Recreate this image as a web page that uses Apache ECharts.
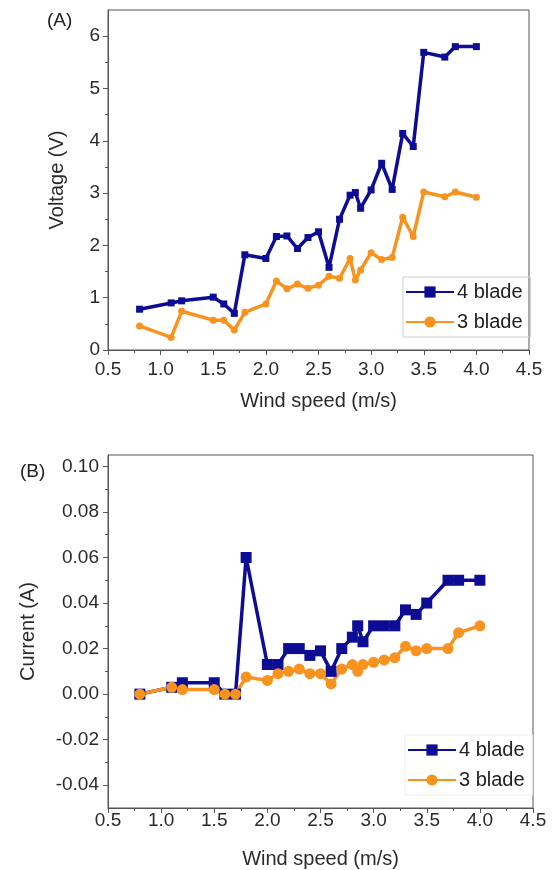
<!DOCTYPE html>
<html>
<head>
<meta charset="utf-8">
<script src="https://cdn.jsdelivr.net/npm/echarts@6/dist/echarts.min.js"></script>
<style>
  html, body { margin: 0; padding: 0; background: #fff; }
  #chart { width: 557px; height: 870px; }
</style>
</head>
<body>
<div id="chart"></div>
<script>
// wind speed (m/s)
let windSpeed = [0.8, 1.1, 1.2, 1.5, 1.6, 1.7, 1.8, 2.0, 2.1, 2.2, 2.3, 2.4, 2.5, 2.6, 2.7, 2.8, 2.85, 2.9, 3.0, 3.1, 3.2, 3.3, 3.4, 3.5, 3.7, 3.8, 4.0];

// (A) voltage
let voltage4 = [0.78, 0.90, 0.94, 1.01, 0.88, 0.70, 1.82, 1.75, 2.17, 2.18, 1.94, 2.15, 2.26, 1.58, 2.50, 2.96, 3.01, 2.71, 3.06, 3.57, 3.07, 4.14, 3.89, 5.69, 5.60, 5.80, 5.80];
let voltage3 = [0.46, 0.24, 0.74, 0.57, 0.57, 0.38, 0.72, 0.88, 1.32, 1.17, 1.26, 1.18, 1.24, 1.41, 1.37, 1.75, 1.34, 1.53, 1.86, 1.73, 1.77, 2.54, 2.17, 3.02, 2.93, 3.02, 2.92];

// (B) current
let current4 = [0, 0.003, 0.005, 0.005, 0, 0, 0.060, 0.013, 0.013, 0.020, 0.020, 0.017, 0.019, 0.010, 0.020, 0.025, 0.030, 0.023, 0.030, 0.030, 0.030, 0.037, 0.035, 0.040, 0.050, 0.050, 0.050];
let current3 = [0, 0.003, 0.002, 0.002, 0, 0, 0.0075, 0.006, 0.009, 0.010, 0.011, 0.009, 0.009, 0.0045, 0.011, 0.013, 0.010, 0.013, 0.014, 0.015, 0.016, 0.021, 0.019, 0.020, 0.020, 0.027, 0.030];

// tick labels
let voltTicks = [0, 1, 2, 3, 4, 5, 6];
let voltMinor = [0.5, 1.5, 2.5, 3.5, 4.5, 5.5];
let currTicks = [-0.04, -0.02, 0, 0.02, 0.04, 0.06, 0.08, 0.10];
let currMinor = [-0.03, -0.01, 0.01, 0.03, 0.05, 0.07, 0.09];

let blue = '#0c0c94';
let orange = '#f7931e';
let font = 'Liberation Sans';

function pairs(xs, ys) {
    return xs.map((x, i) => [x, ys[i]]);
}

function xAxisOf(gridIndex, margin) {
    return {
        type: 'value',
        gridIndex: gridIndex,
        min: 0.5,
        max: 4.5,
        interval: 0.5,
        name: 'Wind speed (m/s)',
        nameLocation: 'middle',
        nameGap: 41,
        nameTextStyle: {fontSize: 20, color: '#2a2a2a', fontFamily: font},
        axisLine: {onZero: false, lineStyle: {color: '#555', width: 1}},
        axisTick: {length: 5, lineStyle: {color: '#555'}},
        minorTick: {show: true, splitNumber: 2, length: 3, lineStyle: {color: '#555'}},
        splitLine: {show: false},
        axisLabel: {fontSize: 19, color: '#2a2a2a', fontFamily: font, margin: margin,
            formatter: v => v.toFixed(1)}
    };
}

function minorAxisOf(gridIndex, min, max, ticks) {
    return {
        type: 'value', gridIndex: gridIndex, min: min, max: max,
        position: 'left',
        axisLine: {show: false, onZero: false},
        axisTick: {show: true, length: 3, customValues: ticks, lineStyle: {color: '#555'}},
        axisLabel: {show: false},
        splitLine: {show: false}
    };
}

function seriesOf(name, idx, data, color, symbol, size) {
    return {
        name: name,
        type: 'line',
        xAxisIndex: idx,
        yAxisIndex: idx * 2,
        data: data,
        symbol: symbol,
        symbolSize: size,
        lineStyle: {color: color, width: 3.5},
        itemStyle: {color: color},
        emphasis: {disabled: true},
        z: 3
    };
}

function legendOf(left, top, border) {
    return {
        data: ['4 blade', '3 blade'],
        orient: 'vertical',
        left: left,
        top: top,
        itemWidth: 48,
        itemHeight: 14,
        itemGap: 10,
        padding: [5, 8, 5, 2],
        borderColor: border,
        borderWidth: 1,
        selectedMode: false,
        textStyle: {fontSize: 20, color: '#222', fontFamily: font, padding: [0, 0, 0, -2]}
    };
}

let option = {
    animation: false,
    backgroundColor: '#fff',
    textStyle: {fontFamily: font},
    grid: [
        {left: 108, top: 10, width: 421, height: 340, show: true, borderColor: '#555', borderWidth: 1},
        {left: 108, top: 455, width: 425, height: 353, show: true, borderColor: '#555', borderWidth: 1}
    ],
    graphic: [
        {type: 'text', left: 47, top: 11, style: {text: '(A)', fontSize: 19, fill: '#222', fontFamily: font}},
        {type: 'text', left: 20, top: 462, style: {text: '(B)', fontSize: 19, fill: '#222', fontFamily: font}}
    ],
    legend: [legendOf(403, 277, '#cfcfcf'), legendOf(405, 735, '#eeeeee')],
    xAxis: [xAxisOf(0, 10), xAxisOf(1, 3)],
    yAxis: [
        {
            type: 'value', gridIndex: 0, min: 0, max: 6.5,
            name: 'Voltage (V)', nameLocation: 'middle', nameGap: 41,
            nameTextStyle: {fontSize: 20, color: '#2a2a2a', fontFamily: font},
            axisLine: {show: true, lineStyle: {color: '#555'}},
            axisTick: {length: 5, customValues: voltTicks, lineStyle: {color: '#555'}},
            splitLine: {show: false},
            axisLabel: {fontSize: 19, color: '#2a2a2a', fontFamily: font, margin: 8, customValues: voltTicks}
        },
        minorAxisOf(0, 0, 6.5, voltMinor),
        {
            type: 'value', gridIndex: 1, min: -0.05, max: 0.105,
            name: 'Current (A)', nameLocation: 'middle', nameGap: 70,
            nameTextStyle: {fontSize: 20, color: '#2a2a2a', fontFamily: font},
            axisLine: {show: true, onZero: false, lineStyle: {color: '#555'}},
            axisTick: {length: 5, customValues: currTicks, lineStyle: {color: '#555'}},
            splitLine: {show: false},
            axisLabel: {fontSize: 19, color: '#2a2a2a', fontFamily: font, margin: 9, customValues: currTicks,
                formatter: v => v.toFixed(2)}
        },
        minorAxisOf(1, -0.05, 0.105, currMinor)
    ],
    series: [
        seriesOf('4 blade', 0, pairs(windSpeed, voltage4), blue, 'rect', 7),
        seriesOf('3 blade', 0, pairs(windSpeed, voltage3), orange, 'circle', 7),
        seriesOf('4 blade', 1, pairs(windSpeed, current4), blue, 'rect', 11),
        seriesOf('3 blade', 1, pairs(windSpeed, current3), orange, 'circle', 11)
    ]
};

let chartDom = document.getElementById('chart');
let myChart = echarts.init(chartDom, null, {renderer: 'canvas'});
myChart.setOption(option);
</script>
</body>
</html>
